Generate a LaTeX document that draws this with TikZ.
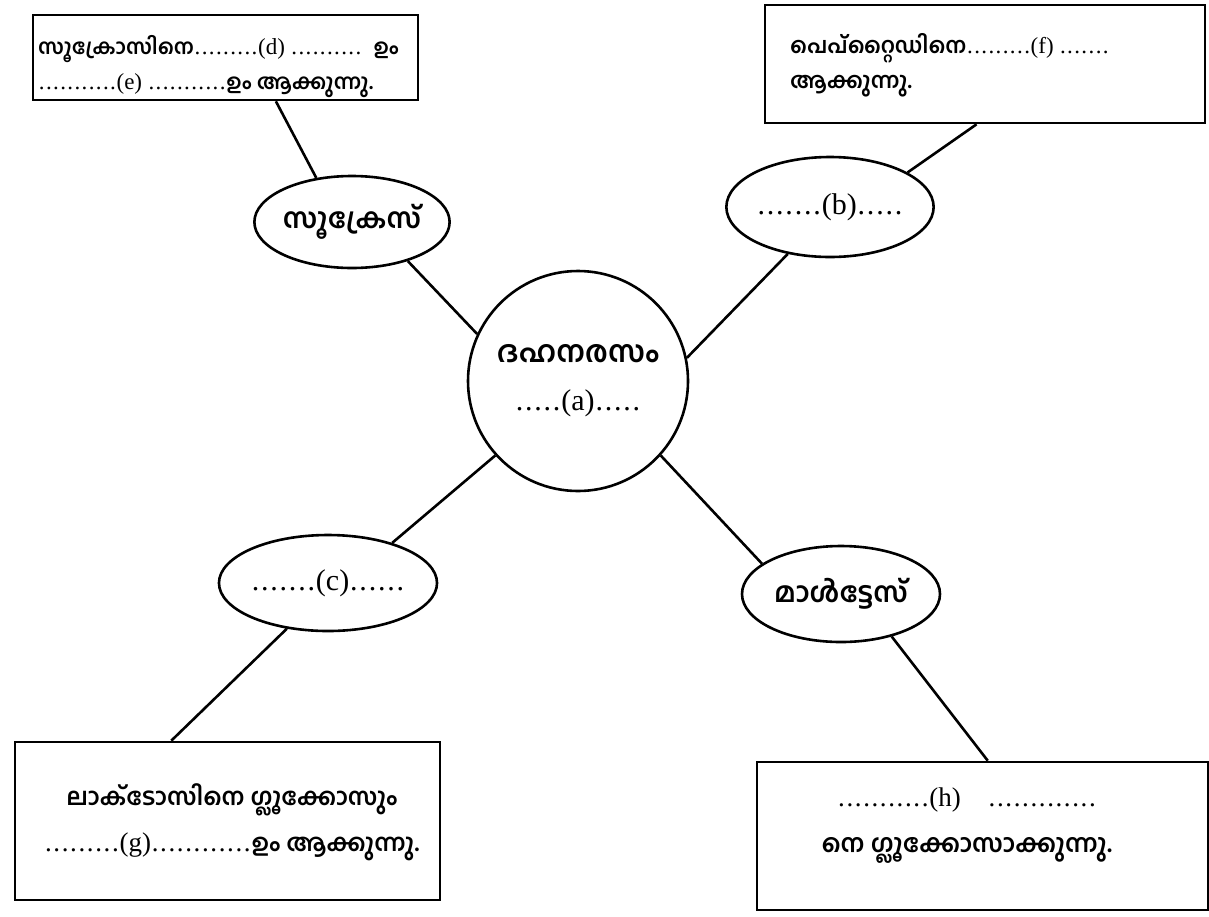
\documentclass[tikz,border=0pt]{standalone}
\usepackage{fontspec}
\setmainfont{Liberation Serif}
\newfontfamily\mlfont[Script=Malayalam]{Hind Kochi}
\newcommand\mlt[2]{{\mlfont\bfseries\fontsize{#1}{#1}\selectfont #2}}
\newcount\dtcount
\newcommand\dt[1]{\dtcount=0 \loop\ifnum\dtcount<#1 \makebox[0.31em]{.}\advance\dtcount by 1 \repeat}
\usetikzlibrary{shapes.geometric}
\tikzset{
  conn/.style={line width=2.6pt},
  bubble/.style={draw, line width=2.6pt, ellipse, inner sep=0pt, font=\fontsize{30}{30}\selectfont},
  hub/.style={draw, line width=2.6pt, circle, inner sep=0pt, minimum size=220pt},
  boxnode/.style={draw, line width=2.6pt, rectangle, inner sep=0pt},
  small/.style={inner sep=0pt, font=\fontsize{23}{35}\selectfont, align=left},
  large/.style={inner sep=0pt, font=\fontsize{27}{46}\selectfont, align=center}
}
\begin{document}
\begin{tikzpicture}[x=1pt,y=-1pt]
\useasboundingbox (0,0) rectangle (1209,916);
% boxes
\node[boxnode, minimum width=385pt, minimum height=85pt] (tl) at (225.5,57.5) {};
\node[small, anchor=west] (tltext) at (38,67)
  {\mlt{21}{സൂക്രോസിനെ}\dt{9}(d) \dt{10}\enspace\mlt{21}{ഉം}\\
   \dt{11}(e) \dt{11}\mlt{21}{ഉം ആക്കുന്നു.}};
\node[boxnode, minimum width=440pt, minimum height=118pt] (tr) at (985,64) {};
\node[small, anchor=west] (trtext) at (790,65)
  {\mlt{22}{പെപ്റ്റൈഡിനെ}\dt{9}(f) \dt{7}\\
   \mlt{22}{ആക്കുന്നു.}};
\node[boxnode, minimum width=425pt, minimum height=158pt] (bl) at (227.5,821) {};
\node[large] (bltext) at (232,822)
  {\mlt{24}{ലാക്ടോസിനെ ഗ്ലൂക്കോസും}\\
   \dt{9}(g)\dt{12}\mlt{24}{ഉം ആക്കുന്നു.}};
\node[boxnode, minimum width=451pt, minimum height=148pt] (br) at (982.5,836) {};
\node[large] (brtext) at (967,826)
  {\dt{11}(h)\quad\dt{13}\\
   \mlt{25}{നെ ഗ്ലൂക്കോസാക്കുന്നു.}};
% ellipses
\node[bubble, minimum width=190pt, minimum height=92pt] (su) at (352,222) {\mlt{28}{സൂക്രേസ്}};
\node[bubble, minimum width=206pt, minimum height=100pt] (b) at (830,207) {\dt{7}(b)\dt{5}};
\node[bubble, minimum width=208pt, minimum height=96pt] (c) at (328,583) {\dt{7}(c)\dt{6}};
\node[bubble, minimum width=198pt, minimum height=96pt] (ma) at (841,594) {\mlt{28}{മാൾട്ടേസ്}};
\node[hub, font=\fontsize{30}{48}\selectfont, align=center] (ci) at (578,381)
  {\mlt{30}{ദഹനരസം}\\ \dt{5}(a)\dt{5}};
% connectors
\draw[conn] (tl.-41) -- (su.129);
\draw[conn] (su.-35) -- (ci.155);
\draw[conn] (ci.12) -- (b.-132);
\draw[conn] (b.24) -- (tr.-98);
\draw[conn] (ci.-138) -- (c.32);
\draw[conn] (c.-132) -- (bl.125);
\draw[conn] (ci.-42) -- (ma.159);
\draw[conn] (ma.-40) -- (br.86);
\end{tikzpicture}
\end{document}
